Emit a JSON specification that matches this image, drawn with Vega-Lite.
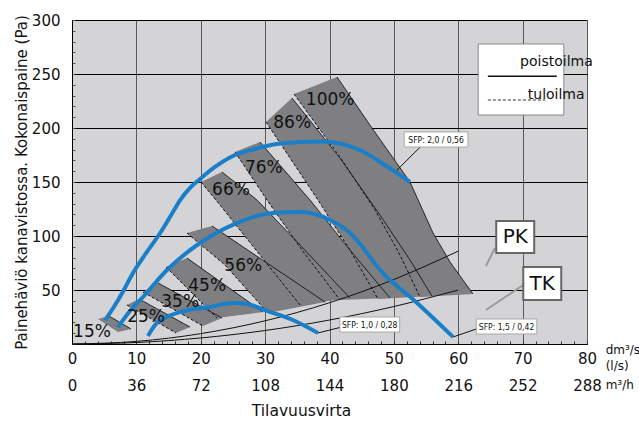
{
  "$schema": "https://vega.github.io/schema/vega-lite/v6.json",
  "autosize": "none",
  "width": 515,
  "height": 324,
  "padding": {"left": 72, "top": 20, "right": 52, "bottom": 91},
  "background": "#ffffff",
  "config": {
    "font": "DejaVu Sans",
    "view": {"fill": "#d4d4d6", "stroke": null}
  },
  "datasets": {
    "bands": [
      {"band": "15", "i": 1, "x": 4.04, "y": 23.1}, {"band": "15", "i": 2, "x": 5.75, "y": 25.9}, {"band": "15", "i": 3, "x": 9.17, "y": 13.9}, {"band": "15", "i": 4, "x": 7.15, "y": 11.1},
      {"band": "25", "i": 1, "x": 8.54, "y": 36.1}, {"band": "25", "i": 2, "x": 10.41, "y": 41.7}, {"band": "25", "i": 3, "x": 18.33, "y": 15.7}, {"band": "25", "i": 4, "x": 16.16, "y": 10.2},
      {"band": "35", "i": 1, "x": 11.03, "y": 48.1}, {"band": "35", "i": 2, "x": 13.36, "y": 56.5}, {"band": "35", "i": 3, "x": 23.3, "y": 24.1}, {"band": "35", "i": 4, "x": 20.35, "y": 16.7},
      {"band": "45", "i": 1, "x": 14.6, "y": 71.3}, {"band": "45", "i": 2, "x": 17.86, "y": 79.6}, {"band": "45", "i": 3, "x": 29.67, "y": 29.6}, {"band": "45", "i": 4, "x": 22.52, "y": 24.1},
      {"band": "56", "i": 1, "x": 17.86, "y": 102.8}, {"band": "56", "i": 2, "x": 21.75, "y": 109.3}, {"band": "56", "i": 3, "x": 30.76, "y": 73.1}, {"band": "56", "i": 4, "x": 39.3, "y": 38.9}, {"band": "56", "i": 5, "x": 30.45, "y": 28.7}, {"band": "56", "i": 6, "x": 23.77, "y": 73.1},
      {"band": "66", "i": 1, "x": 20.04, "y": 150}, {"band": "66", "i": 2, "x": 23.3, "y": 159.3}, {"band": "66", "i": 3, "x": 28.74, "y": 133.3}, {"band": "66", "i": 4, "x": 35.42, "y": 91.7}, {"band": "66", "i": 5, "x": 43.18, "y": 42.6}, {"band": "66", "i": 6, "x": 35.42, "y": 36.1}, {"band": "66", "i": 7, "x": 29.2, "y": 82.4}, {"band": "66", "i": 8, "x": 22.99, "y": 128.7},
      {"band": "76", "i": 1, "x": 25.32, "y": 177.8}, {"band": "76", "i": 2, "x": 29.2, "y": 187}, {"band": "76", "i": 3, "x": 36.97, "y": 133.3}, {"band": "76", "i": 4, "x": 43.18, "y": 87}, {"band": "76", "i": 5, "x": 49.4, "y": 42.6}, {"band": "76", "i": 6, "x": 41.63, "y": 40.7}, {"band": "76", "i": 7, "x": 35.73, "y": 87}, {"band": "76", "i": 8, "x": 30.29, "y": 133.3},
      {"band": "86", "i": 1, "x": 30.14, "y": 205.6}, {"band": "86", "i": 2, "x": 34.17, "y": 227.8}, {"band": "86", "i": 3, "x": 41.63, "y": 172.2}, {"band": "86", "i": 4, "x": 47.84, "y": 119.4}, {"band": "86", "i": 5, "x": 52.5, "y": 77.8}, {"band": "86", "i": 6, "x": 55.92, "y": 44.4}, {"band": "86", "i": 7, "x": 47.53, "y": 41.7}, {"band": "86", "i": 8, "x": 43.18, "y": 87}, {"band": "86", "i": 9, "x": 38.21, "y": 133.3},
      {"band": "100", "i": 1, "x": 34.49, "y": 231.5}, {"band": "100", "i": 2, "x": 41.17, "y": 247.2}, {"band": "100", "i": 3, "x": 46.6, "y": 200}, {"band": "100", "i": 4, "x": 52.5, "y": 150}, {"band": "100", "i": 5, "x": 56.08, "y": 102.8}, {"band": "100", "i": 6, "x": 58.72, "y": 75.9}, {"band": "100", "i": 7, "x": 62.29, "y": 46.3}, {"band": "100", "i": 8, "x": 54.06, "y": 43.5}, {"band": "100", "i": 9, "x": 50.95, "y": 82.4}, {"band": "100", "i": 10, "x": 47.07, "y": 124.1}, {"band": "100", "i": 11, "x": 41.63, "y": 173.1}
    ],
    "edges": [
      {"e": "s15", "kind": "poisto", "x": 5.75, "y": 25.9}, {"e": "s15", "kind": "poisto", "x": 9.17, "y": 13.9},
      {"e": "s25", "kind": "poisto", "x": 10.41, "y": 41.7}, {"e": "s25", "kind": "poisto", "x": 18.33, "y": 15.7},
      {"e": "s35", "kind": "poisto", "x": 13.36, "y": 56.5}, {"e": "s35", "kind": "poisto", "x": 23.3, "y": 24.1},
      {"e": "s45", "kind": "poisto", "x": 17.86, "y": 79.6}, {"e": "s45", "kind": "poisto", "x": 29.67, "y": 29.6},
      {"e": "s56", "kind": "poisto", "x": 21.75, "y": 109.3}, {"e": "s56", "kind": "poisto", "x": 30.76, "y": 73.1}, {"e": "s56", "kind": "poisto", "x": 39.3, "y": 38.9},
      {"e": "s66", "kind": "poisto", "x": 23.3, "y": 159.3}, {"e": "s66", "kind": "poisto", "x": 28.74, "y": 133.3}, {"e": "s66", "kind": "poisto", "x": 35.42, "y": 91.7}, {"e": "s66", "kind": "poisto", "x": 43.18, "y": 42.6},
      {"e": "s76", "kind": "poisto", "x": 29.2, "y": 187}, {"e": "s76", "kind": "poisto", "x": 36.97, "y": 133.3}, {"e": "s76", "kind": "poisto", "x": 43.18, "y": 87}, {"e": "s76", "kind": "poisto", "x": 49.4, "y": 42.6},
      {"e": "s86", "kind": "poisto", "x": 34.17, "y": 227.8}, {"e": "s86", "kind": "poisto", "x": 41.63, "y": 172.2}, {"e": "s86", "kind": "poisto", "x": 47.84, "y": 119.4}, {"e": "s86", "kind": "poisto", "x": 52.5, "y": 77.8}, {"e": "s86", "kind": "poisto", "x": 55.92, "y": 44.4},
      {"e": "s100", "kind": "poisto", "x": 41.17, "y": 247.2}, {"e": "s100", "kind": "poisto", "x": 46.6, "y": 200}, {"e": "s100", "kind": "poisto", "x": 52.5, "y": 150}, {"e": "s100", "kind": "poisto", "x": 56.08, "y": 102.8}, {"e": "s100", "kind": "poisto", "x": 58.72, "y": 75.9}, {"e": "s100", "kind": "poisto", "x": 62.29, "y": 46.3},
      {"e": "d25", "kind": "tulo", "x": 8.54, "y": 36.1}, {"e": "d25", "kind": "tulo", "x": 16.16, "y": 10.2},
      {"e": "d35", "kind": "tulo", "x": 11.03, "y": 48.1}, {"e": "d35", "kind": "tulo", "x": 20.35, "y": 16.7},
      {"e": "d45", "kind": "tulo", "x": 14.6, "y": 71.3}, {"e": "d45", "kind": "tulo", "x": 22.52, "y": 24.1},
      {"e": "d56", "kind": "tulo", "x": 17.86, "y": 102.8}, {"e": "d56", "kind": "tulo", "x": 23.77, "y": 73.1}, {"e": "d56", "kind": "tulo", "x": 30.45, "y": 28.7},
      {"e": "d66", "kind": "tulo", "x": 20.04, "y": 150}, {"e": "d66", "kind": "tulo", "x": 22.99, "y": 128.7}, {"e": "d66", "kind": "tulo", "x": 29.2, "y": 82.4}, {"e": "d66", "kind": "tulo", "x": 35.42, "y": 36.1},
      {"e": "d76", "kind": "tulo", "x": 25.32, "y": 177.8}, {"e": "d76", "kind": "tulo", "x": 30.29, "y": 133.3}, {"e": "d76", "kind": "tulo", "x": 35.73, "y": 87}, {"e": "d76", "kind": "tulo", "x": 41.63, "y": 40.7},
      {"e": "d86", "kind": "tulo", "x": 30.14, "y": 205.6}, {"e": "d86", "kind": "tulo", "x": 38.21, "y": 133.3}, {"e": "d86", "kind": "tulo", "x": 43.18, "y": 87}, {"e": "d86", "kind": "tulo", "x": 47.53, "y": 41.7},
      {"e": "d100", "kind": "tulo", "x": 34.49, "y": 231.5}, {"e": "d100", "kind": "tulo", "x": 41.63, "y": 173.1}, {"e": "d100", "kind": "tulo", "x": 47.07, "y": 124.1}, {"e": "d100", "kind": "tulo", "x": 50.95, "y": 82.4}, {"e": "d100", "kind": "tulo", "x": 54.06, "y": 43.5}
    ],
    "system": [
      {"k": "PK", "x": 0, "y": 0}, {"k": "PK", "x": 10, "y": 2.4}, {"k": "PK", "x": 20, "y": 9.6}, {"k": "PK", "x": 30, "y": 21.5}, {"k": "PK", "x": 40, "y": 38.2}, {"k": "PK", "x": 50, "y": 59.7}, {"k": "PK", "x": 60, "y": 86},
      {"k": "TK", "x": 0, "y": 0}, {"k": "TK", "x": 10, "y": 1.4}, {"k": "TK", "x": 20, "y": 5.6}, {"k": "TK", "x": 30, "y": 12.5}, {"k": "TK", "x": 40, "y": 22.2}, {"k": "TK", "x": 50, "y": 34.7}, {"k": "TK", "x": 60, "y": 50}
    ],
    "sfp": [
      {"c": "2.0", "x": 5.13, "y": 22}, {"c": "2.0", "x": 6.4, "y": 33.3}, {"c": "2.0", "x": 7.8, "y": 47.2}, {"c": "2.0", "x": 9.3, "y": 63.9}, {"c": "2.0", "x": 11.3, "y": 82.4}, {"c": "2.0", "x": 13.7, "y": 102.8}, {"c": "2.0", "x": 15.5, "y": 120.4}, {"c": "2.0", "x": 16.8, "y": 133.3}, {"c": "2.0", "x": 18.3, "y": 144.4}, {"c": "2.0", "x": 19.9, "y": 152.8}, {"c": "2.0", "x": 22.2, "y": 163.9}, {"c": "2.0", "x": 25, "y": 174.1}, {"c": "2.0", "x": 28.4, "y": 180.6}, {"c": "2.0", "x": 31.8, "y": 185.2}, {"c": "2.0", "x": 35.4, "y": 187}, {"c": "2.0", "x": 38.5, "y": 187.5}, {"c": "2.0", "x": 41.6, "y": 185.6}, {"c": "2.0", "x": 44.7, "y": 179.6}, {"c": "2.0", "x": 48.6, "y": 165.7}, {"c": "2.0", "x": 52.5, "y": 150},
      {"c": "1.5", "x": 7.15, "y": 15.7}, {"c": "1.5", "x": 9, "y": 30.6}, {"c": "1.5", "x": 11.03, "y": 43.5}, {"c": "1.5", "x": 14.76, "y": 68.5}, {"c": "1.5", "x": 19.88, "y": 93.5}, {"c": "1.5", "x": 25.6, "y": 112}, {"c": "1.5", "x": 31.2, "y": 121.3}, {"c": "1.5", "x": 35.4, "y": 122.2}, {"c": "1.5", "x": 40.1, "y": 114.8}, {"c": "1.5", "x": 43.2, "y": 102.8}, {"c": "1.5", "x": 48.3, "y": 65.7}, {"c": "1.5", "x": 53.6, "y": 38}, {"c": "1.5", "x": 59.2, "y": 6.5},
      {"c": "1.0", "x": 11.8, "y": 7.4}, {"c": "1.0", "x": 12.9, "y": 17.6}, {"c": "1.0", "x": 14.4, "y": 24}, {"c": "1.0", "x": 16.8, "y": 29.6}, {"c": "1.0", "x": 21.4, "y": 34.3}, {"c": "1.0", "x": 25, "y": 38}, {"c": "1.0", "x": 27.2, "y": 37}, {"c": "1.0", "x": 30.3, "y": 30.6}, {"c": "1.0", "x": 34.3, "y": 22.2}, {"c": "1.0", "x": 38.2, "y": 10.2}
    ],
    "pct": [
      {"t": "15%", "x": 3.1, "y": 11.1}, {"t": "25%", "x": 11.5, "y": 25}, {"t": "35%", "x": 16.8, "y": 38.9}, {"t": "45%", "x": 21, "y": 53.7}, {"t": "56%", "x": 26.6, "y": 72.2}, {"t": "66%", "x": 24.7, "y": 142.6}, {"t": "76%", "x": 29.8, "y": 163}, {"t": "86%", "x": 34.2, "y": 204.6}, {"t": "100%", "x": 40.1, "y": 225.9}
    ],
    "leaders": [
      {"l": "a", "x": 54.1, "y": 182.4}, {"l": "a", "x": 50.2, "y": 159.3},
      {"l": "b", "x": 38.2, "y": 10.2}, {"l": "b", "x": 41.9, "y": 15.7},
      {"l": "c", "x": 59.2, "y": 6.5}, {"l": "c", "x": 62.8, "y": 13.9}
    ],
    "sfpboxes": [
      {"x": 51.6, "x2": 61.5, "y": 196.3, "y2": 182.4},
      {"x": 41.6, "x2": 50.9, "y": 25, "y2": 11.1},
      {"x": 62.8, "x2": 72.2, "y": 23.1, "y2": 9.3}
    ],
    "sfptext": [
      {"t": "SFP: 2,0 / 0,56", "x": 56.55, "y": 189.3},
      {"t": "SFP: 1,0 / 0,28", "x": 46.25, "y": 18},
      {"t": "SFP: 1,5 / 0,42", "x": 67.5, "y": 16.2}
    ],
    "kboxes": [
      {"x": 65.9, "x2": 71.8, "y": 113.9, "y2": 84.3},
      {"x": 70.1, "x2": 76, "y": 71.3, "y2": 40.7}
    ],
    "ktext": [
      {"t": "PK", "x": 68.85, "y": 99.1},
      {"t": "TK", "x": 73.05, "y": 56}
    ],
    "kleaders": [
      {"l": "PK", "x": 64.3, "y": 72.2}, {"l": "PK", "x": 65.7, "y": 88.9},
      {"l": "TK", "x": 64.3, "y": 31.5}, {"l": "TK", "x": 70.1, "y": 54.6}
    ],
    "legendbox": [{"x": 63.1, "x2": 76.4, "y": 277.8, "y2": 212}],
    "legendlines": [
      {"kind": "poistoilma", "x": 64.6, "y": 248}, {"kind": "poistoilma", "x": 75.3, "y": 248},
      {"kind": "tuloilma", "x": 64.6, "y": 226}, {"kind": "tuloilma", "x": 73.5, "y": 226}
    ],
    "legendtext": [
      {"t": "poistoilma", "x": 69.6, "y": 261},
      {"t": "tuloilma", "x": 70.8, "y": 230.6}
    ],
    "units": [
      {"t": "dm³/s", "x": 82.9, "y": -6},
      {"t": "(l/s)", "x": 82.9, "y": -20},
      {"t": "m³/h", "x": 82.9, "y": -37.5}
    ]
  },
  "encoding": {
    "x": {
      "field": "x", "type": "quantitative",
      "scale": {"domain": [0, 80], "nice": false, "zero": false},
      "axis": {
        "values": [0,2,4,6,8,10,12,14,16,18,20,22,24,26,28,30,32,34,36,38,40,42,44,46,48,50,52,54,56,58,60,62,64,66,68,70,72,74,76,78,80],
        "labelExpr": "datum.value % 10 === 0 ? [datum.label, format(datum.value * 3.6, 'd')] : ''",
        "labelLineHeight": 27,
        "labelFontSize": 15,
        "labelColor": "#111",
        "labelPadding": 10,
        "labelFlush": false,
        "labelOverlap": false,
        "domainColor": "#000",
        "tickColor": "#333",
        "tickSize": -3,
        "grid": true,
        "gridColor": "#5a5a5a",
        "gridOpacity": {"condition": {"test": "datum.value % 10 === 0", "value": 1}, "value": 0},
        "title": "Tilavuusvirta",
        "titleFontSize": 15.5,
        "titleFontWeight": "normal",
        "titleColor": "#111",
        "titleX": 229,
        "titleY": 66,
        "titleBaseline": "middle"
      }
    },
    "y": {
      "field": "y", "type": "quantitative",
      "scale": {"domain": [0, 300], "nice": false},
      "axis": {
        "values": [0,10,20,30,40,50,60,70,80,90,100,110,120,130,140,150,160,170,180,190,200,210,220,230,240,250,260,270,280,290,300],
        "labelExpr": "datum.value % 50 === 0 && datum.value > 0 ? datum.label : ''",
        "labelFontSize": 15,
        "labelColor": "#111",
        "labelPadding": 15,
        "labelOverlap": false,
        "labelFlush": false,
        "domainColor": "#000",
        "tickColor": "#555",
        "tickSize": -3,
        "grid": true,
        "gridColor": "#000",
        "gridOpacity": {"condition": {"test": "datum.value % 50 === 0", "value": 1}, "value": 0},
        "title": "Painehäviö kanavistossa. Kokonaispaine (Pa)",
        "titleFontSize": 15,
        "titleFontWeight": "normal",
        "titleColor": "#111",
        "titlePadding": 2
      }
    }
  },
  "layer": [
    {
      "data": {"name": "bands"},
      "mark": {"type": "line", "fill": "#7f7f82", "stroke": null},
      "encoding": {
        "detail": {"field": "band"},
        "order": {"field": "i", "type": "quantitative"}
      }
    },
    {
      "data": {"name": "edges"},
      "mark": {"type": "line", "color": "#111", "strokeWidth": 1},
      "encoding": {
        "detail": {"field": "e"},
        "order": {"field": "y", "type": "quantitative", "sort": "descending"},
        "strokeDash": {"field": "kind", "type": "nominal", "scale": {"domain": ["poisto", "tulo"], "range": [[1, 0], [3, 2]]}, "legend": null}
      }
    },
    {
      "data": {"name": "system"},
      "mark": {"type": "line", "color": "#111", "strokeWidth": 1, "interpolate": "monotone"},
      "encoding": {"detail": {"field": "k"}}
    },
    {
      "data": {"name": "leaders"},
      "mark": {"type": "line", "color": "#111", "strokeWidth": 1},
      "encoding": {"detail": {"field": "l"}}
    },
    {
      "data": {"name": "sfp"},
      "mark": {"type": "line", "color": "#1a7fc8", "strokeWidth": 4, "interpolate": "monotone"},
      "encoding": {"detail": {"field": "c"}}
    },
    {
      "data": {"name": "pct"},
      "mark": {"type": "text", "fontSize": 17, "color": "#111"},
      "encoding": {"text": {"field": "t"}}
    },
    {
      "data": {"name": "sfpboxes"},
      "mark": {"type": "rect", "fill": "#ffffff", "stroke": "#999", "strokeWidth": 0.8},
      "encoding": {"x2": {"field": "x2"}, "y2": {"field": "y2"}}
    },
    {
      "data": {"name": "sfptext"},
      "mark": {"type": "text", "fontSize": 8.5, "font": "DejaVu Sans Condensed", "color": "#111"},
      "encoding": {"text": {"field": "t"}}
    },
    {
      "data": {"name": "kleaders"},
      "mark": {"type": "line", "color": "#9a9a9a", "strokeWidth": 2},
      "encoding": {"detail": {"field": "l"}}
    },
    {
      "data": {"name": "kboxes"},
      "mark": {"type": "rect", "fill": "#ffffff", "stroke": "#666", "strokeWidth": 2},
      "encoding": {"x2": {"field": "x2"}, "y2": {"field": "y2"}}
    },
    {
      "data": {"name": "ktext"},
      "mark": {"type": "text", "fontSize": 20, "color": "#111"},
      "encoding": {"text": {"field": "t"}}
    },
    {
      "data": {"name": "legendbox"},
      "mark": {"type": "rect", "fill": "#ffffff", "stroke": "#888", "strokeWidth": 1},
      "encoding": {"x2": {"field": "x2"}, "y2": {"field": "y2"}}
    },
    {
      "data": {"name": "legendlines"},
      "mark": {"type": "line", "strokeWidth": 1.5},
      "encoding": {
        "detail": {"field": "kind"},
        "color": {"field": "kind", "type": "nominal", "scale": {"domain": ["poistoilma", "tuloilma"], "range": ["#111", "#777"]}, "legend": null},
        "strokeDash": {"field": "kind", "type": "nominal", "scale": {"domain": ["poistoilma", "tuloilma"], "range": [[1, 0], [8, 6]]}, "legend": null}
      }
    },
    {
      "data": {"name": "legendtext"},
      "mark": {"type": "text", "fontSize": 14, "align": "left", "color": "#111"},
      "encoding": {"text": {"field": "t"}}
    },
    {
      "data": {"name": "units"},
      "mark": {"type": "text", "fontSize": 12, "align": "left", "color": "#111"},
      "encoding": {"text": {"field": "t"}}
    }
  ]
}
